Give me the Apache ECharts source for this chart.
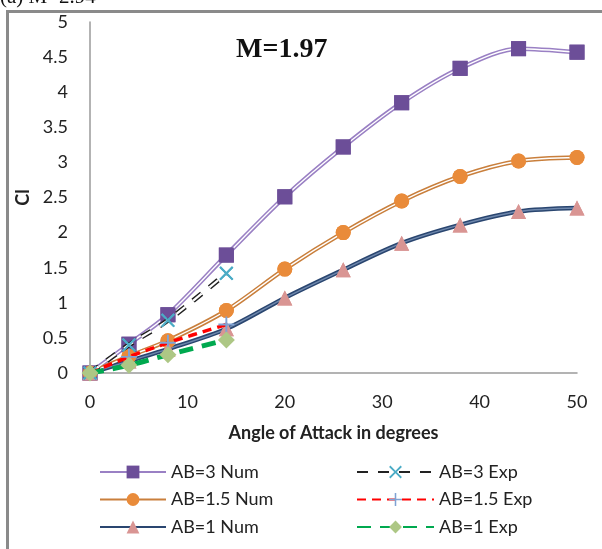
<!DOCTYPE html>
<html>
<head>
<meta charset="utf-8">
<script src="https://cdn.jsdelivr.net/npm/echarts@6/dist/echarts.min.js"></script>
<style>
html,body{margin:0;padding:0;background:#fff;}
#chart{width:602px;height:549px;}
</style>
</head>
<body>
<div id="chart"></div>
<script>
// ---- data ----
var angleNum = [0, 4, 8, 14, 20, 26, 32, 38, 44, 50];
var ab3Num  = [0, 0.41, 0.83, 1.68, 2.51, 3.22, 3.85, 4.34, 4.62, 4.57];
var ab15Num = [0, 0.24, 0.46, 0.89, 1.48, 2.00, 2.45, 2.80, 3.02, 3.07];
var ab1Num  = [0, 0.17, 0.34, 0.63, 1.07, 1.47, 1.85, 2.11, 2.30, 2.35];
var angleExp = [0, 4, 8, 14];
var ab3Exp  = [0, 0.40, 0.75, 1.42];
var ab15Exp = [0, 0.23, 0.43, 0.69];
var ab1Exp  = [0, 0.11, 0.26, 0.47];
var xTicks = [0, 10, 20, 30, 40, 50];
var yTicks = [0, 0.5, 1, 1.5, 2, 2.5, 3, 3.5, 4, 4.5, 5];
var namesNum = ['AB=3 Num', 'AB=1.5 Num', 'AB=1 Num'];
var namesExp = ['AB=3 Exp', 'AB=1.5 Exp', 'AB=1 Exp'];

function pairs(xs, ys){ return xs.map(function(x,i){ return [x, ys[i]]; }); }

var FONT = 'Lato, "Open Sans", sans-serif';
var crossPath = 'path://M0,1L1,0L5,4L9,0L10,1L6,5L10,9L9,10L5,6L1,10L0,9L4,5Z';
var plusPath = 'path://M4.4,0H5.6V4.4H10V5.6H5.6V10H4.4V5.6H0V4.4H4.4Z';

function numSeries(name, ys, lineColor, core, sym, symColor){
  var d = pairs(angleNum, ys);
  return [
    {name:name, type:'line', data:d, smooth:0.3, z:2, symbol:sym, symbolSize:15,
     itemStyle:{color:symColor}, lineStyle:{color:lineColor, width:4.5}},
    {name:name+'_core', type:'line', data:d, smooth:0.3, z:3, symbol:'none', silent:true,
     lineStyle:{color:core, width:1.4}},
    {name:name+'_sym', type:'line', data:d, smooth:0.3, z:4, symbol:sym, symbolSize:15,
     itemStyle:{color:symColor}, lineStyle:{width:0, opacity:0}}
  ];
}

var series = [];
series = series.concat(numSeries(namesNum[0], ab3Num, '#9A80C4', '#ffffff', 'rect', '#6C4E98'));
series = series.concat(numSeries(namesNum[1], ab15Num, '#C97F3C', '#ffffff', 'circle', '#E98B3A'));
series = series.concat(numSeries(namesNum[2], ab1Num, '#2A4670', '#6F88AD', 'triangle', '#D99593'));

var e3 = pairs(angleExp, ab3Exp);
series.push({name:namesExp[0], type:'line', data:e3, smooth:0.3, z:5, symbol:crossPath, symbolSize:14,
  itemStyle:{color:'#4BACC6'}, lineStyle:{color:'#222', width:5, type:[11,10]}});
series.push({name:namesExp[0]+'_core', type:'line', data:e3, smooth:0.3, z:6, symbol:'none', silent:true,
  lineStyle:{color:'#fff', width:2.2, type:[11,10]}});
series.push({name:namesExp[0]+'_sym', type:'line', data:e3, smooth:0.3, z:7, symbol:crossPath, symbolSize:14,
  itemStyle:{color:'#4BACC6'}, lineStyle:{width:0, opacity:0}});
series.push({name:namesExp[1], type:'line', data:pairs(angleExp, ab15Exp), smooth:0.3, z:8, symbol:plusPath, symbolSize:16,
  itemStyle:{color:'#7FA2D4'}, lineStyle:{color:'#FF0000', width:3.5, type:[9,6]}});
series.push({name:namesExp[2], type:'line', data:pairs(angleExp, ab1Exp), smooth:0.3, z:9, symbol:'diamond', symbolSize:17,
  itemStyle:{color:'#ADC785'}, lineStyle:{color:'#00A94F', width:5, type:[14,9]}});

var chart = echarts.init(document.getElementById('chart'), null, {renderer:'canvas'});
chart.setOption({
  backgroundColor:'#fff',
  animation:false,
  grid:{left:90, right:25, top:22, bottom:176},
  xAxis:{type:'value', min:0, max:50, interval:10,
    axisLine:{show:true, onZero:false, lineStyle:{color:'#9a9a9a', width:1.5}},
    axisTick:{show:false}, splitLine:{show:false},
    axisLabel:{margin:20, fontSize:18, color:'#222', fontFamily:FONT,
      formatter:function(v){ return xTicks.indexOf(v) >= 0 ? String(v) : ''; }},
    name:'Angle of Attack in degrees', nameLocation:'middle', nameGap:51,
    nameTextStyle:{fontSize:18, fontWeight:'bold', color:'#222', fontFamily:FONT}},
  yAxis:{type:'value', min:0, max:5, interval:0.5,
    axisLine:{show:true, onZero:false, lineStyle:{color:'#9a9a9a', width:1.5}},
    axisTick:{show:false}, splitLine:{show:false},
    axisLabel:{margin:22, fontSize:18, color:'#222', fontFamily:FONT,
      formatter:function(v){ return yTicks.indexOf(v) >= 0 ? String(v) : ''; }},
    name:'Cl', nameLocation:'middle', nameGap:46,
    nameTextStyle:{fontSize:18, fontWeight:'bold', color:'#222', fontFamily:FONT}},
  legend:[
    {data:namesNum, orient:'vertical', left:94, top:458, itemWidth:66, itemHeight:16, itemGap:9.5,
     textStyle:{fontSize:18, color:'#222', fontFamily:FONT}, selectedMode:false},
    {data:namesExp, orient:'vertical', left:351, top:458, itemWidth:77, itemHeight:16, itemGap:9.5,
     textStyle:{fontSize:18, color:'#222', fontFamily:FONT}, selectedMode:false}
  ],
  graphic:[
    {type:'rect', left:5, top:9, shape:{x:0, y:0, width:640, height:580}, z:-1, silent:true,
     style:{fill:'none', stroke:'#8a8a8a', lineWidth:3}},
    {type:'text', left:0, top:-13, z:10, silent:true,
     style:{text:'(a) M=2.94', font:'21px "Liberation Serif", serif', fill:'#111'}},
    {type:'text', left:236, top:36, z:10, silent:true,
     style:{text:'M=1.97', font:'bold 28px "Liberation Serif", serif', fill:'#111'}}
  ],
  series:series
});
</script>
</body>
</html>
